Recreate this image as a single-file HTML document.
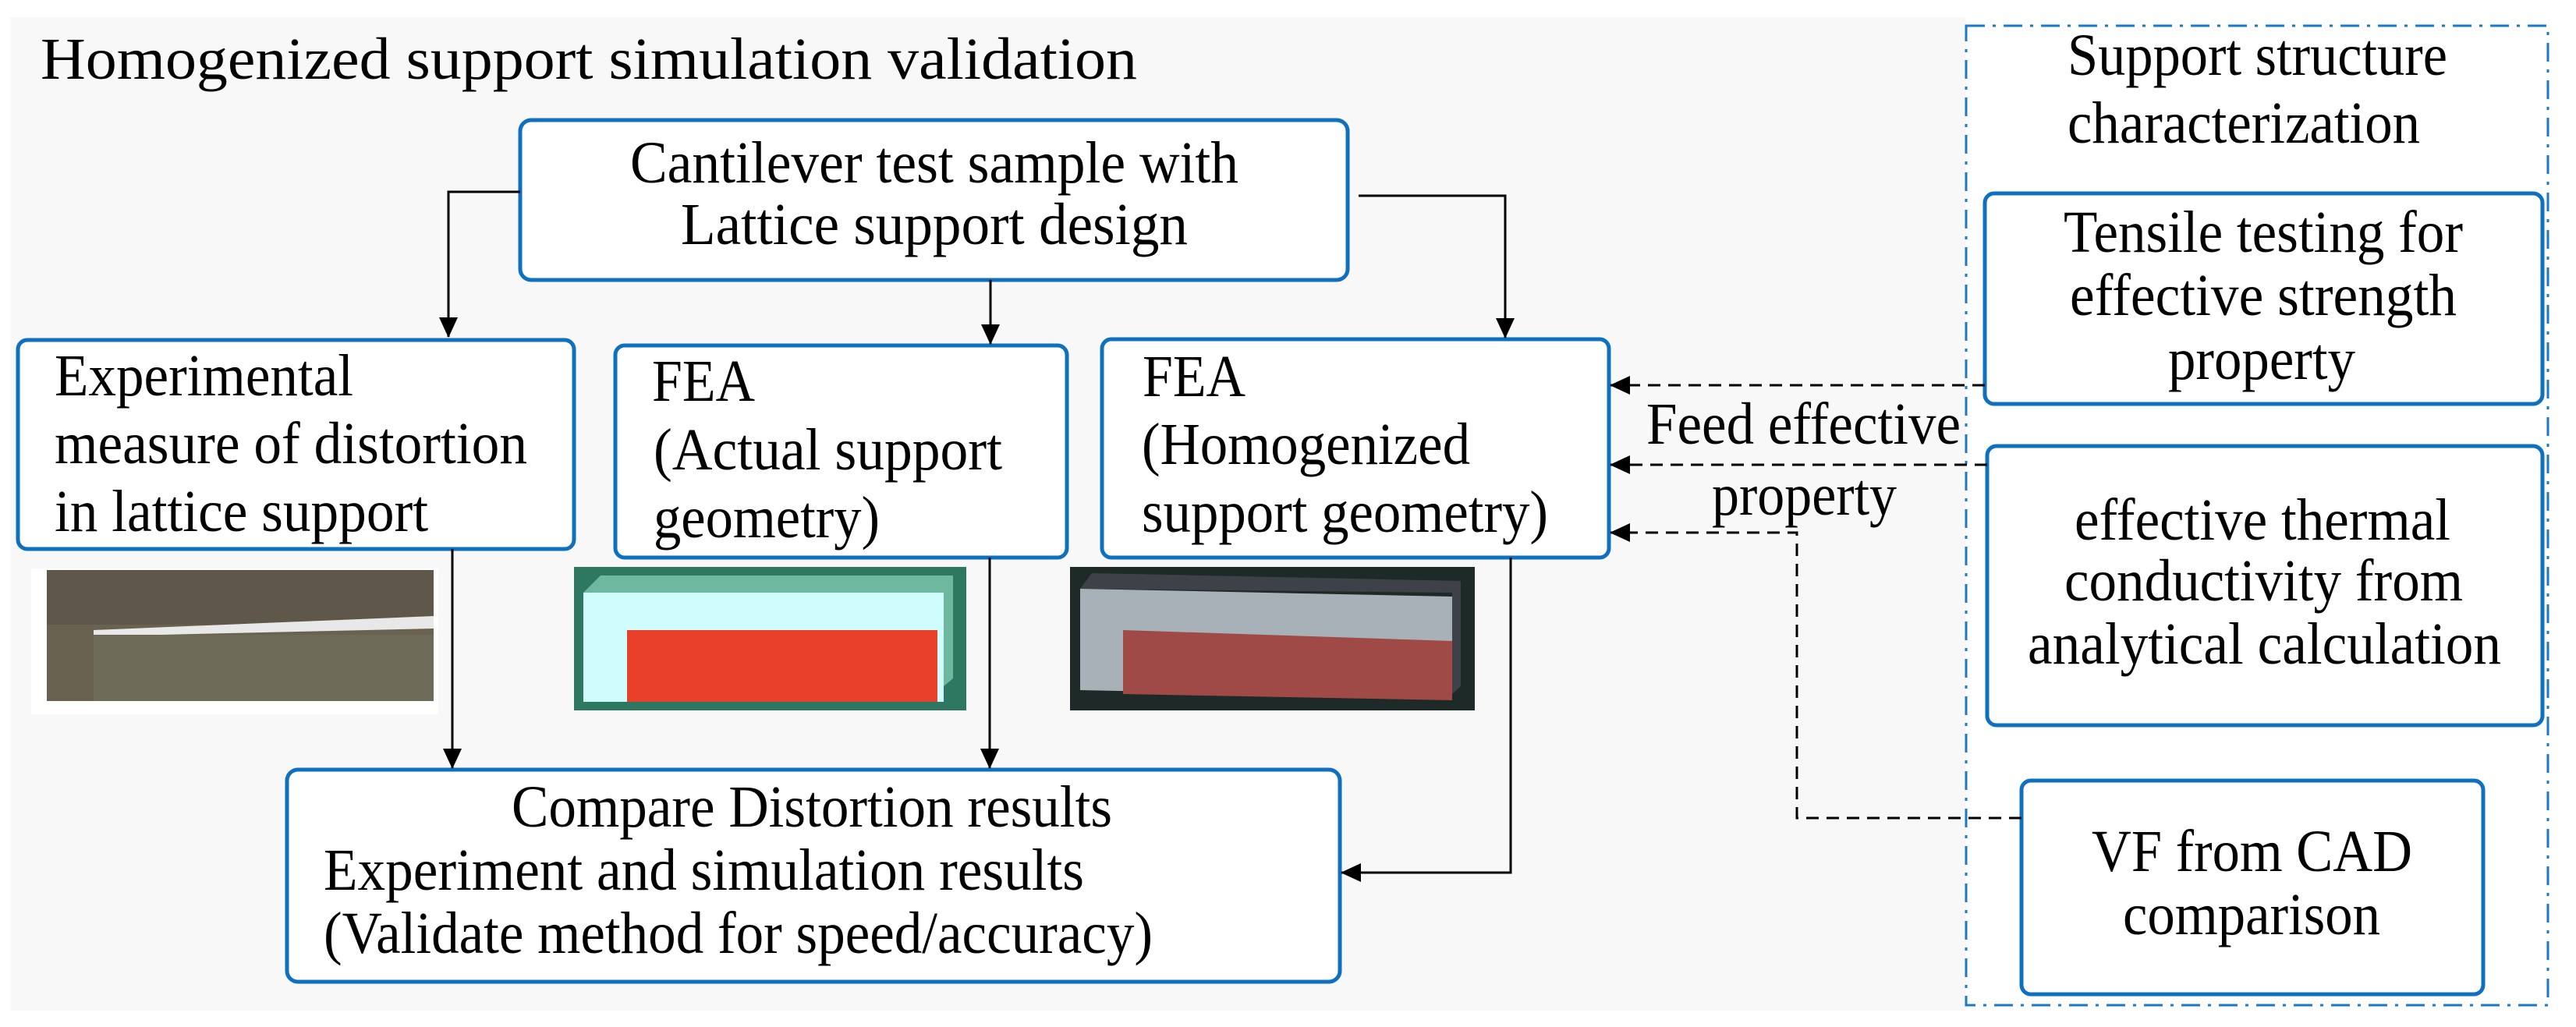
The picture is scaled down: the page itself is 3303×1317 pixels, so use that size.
<!DOCTYPE html>
<html><head><meta charset="utf-8"><style>
html,body{margin:0;padding:0;background:#fff}
svg{display:block}
</style></head><body>
<svg width="3303" height="1317" viewBox="0 0 3303 1317" xmlns="http://www.w3.org/2000/svg">
<defs>
<marker id="ah" markerWidth="26" markerHeight="24" refX="25" refY="12" orient="auto" markerUnits="userSpaceOnUse">
<path d="M0,0 L26,12 L0,24 Z" fill="#000"/></marker>
</defs>
<rect x="13" y="22" width="2508" height="1274" fill="#f8f8f8"/>
<rect x="2521" y="33" width="746" height="1256" fill="#fff" stroke="#1a78c8" stroke-width="3" stroke-dasharray="24,10,4,10"/>

<g fill="#fff" stroke="#0f70c0" stroke-width="5">
<rect x="667" y="154" width="1061" height="205" rx="14"/>
<rect x="23" y="436" width="713" height="268" rx="12"/>
<rect x="789" y="443" width="579" height="272" rx="12"/>
<rect x="1413" y="435" width="650" height="280" rx="12"/>
<rect x="368" y="987" width="1350" height="272" rx="14"/>
<rect x="2545" y="248" width="715" height="270" rx="12"/>
<rect x="2548" y="572" width="712" height="358" rx="12"/>
<rect x="2592" y="1001" width="592" height="274" rx="12"/>
</g>

<g stroke="#000" stroke-width="3" fill="none">
<path d="M667,246 H575 V432" marker-end="url(#ah)"/>
<path d="M1270,359 V441" marker-end="url(#ah)"/>
<path d="M1742,251 H1930 V433" marker-end="url(#ah)"/>
<path d="M580,704 V985" marker-end="url(#ah)"/>
<path d="M1269,715 V985" marker-end="url(#ah)"/>
<path d="M1937,715 V1119 H1720" marker-end="url(#ah)"/>
</g>
<g stroke="#000" stroke-width="3" fill="none" stroke-dasharray="16,10">
<path d="M2545,494 H2065" marker-end="url(#ah)"/>
<path d="M2548,596 H2065" marker-end="url(#ah)"/>
<path d="M2592,1049 H2304 V683 H2065" marker-end="url(#ah)"/>
</g>

<rect x="40" y="729" width="522" height="187" fill="#fff"/>
<rect x="60" y="731" width="496" height="168" fill="#6a6250"/>
<rect x="60" y="731" width="496" height="70" fill="#5f584a"/>
<path d="M120,808 L556,790 L556,806 L120,816 Z" fill="#e8e8e8"/>
<rect x="120" y="814" width="436" height="85" fill="#6e6a58"/>
<rect x="736" y="727" width="503" height="184" fill="#2e7760"/>
<path d="M748,760 L770,738 L1222,738 L1222,870 L1210,880 L1210,760 Z" fill="#6fb8a0"/>
<rect x="748" y="760" width="462" height="140" fill="#cffcfc"/>
<rect x="804" y="808" width="398" height="92" fill="#e8402a"/>
<rect x="1372" y="727" width="519" height="184" fill="#1e2a28"/>
<path d="M1385,755 L1400,735 L1873,745 L1873,880 L1862,890 L1862,760 Z" fill="#3e4248"/>
<path d="M1385,755 L1862,765 L1862,895 L1385,885 Z" fill="#a8b0b8"/>
<path d="M1440,808 L1862,822 L1862,898 L1440,890 Z" fill="#a04a48"/>

<g style="font-family:'Liberation Serif','DejaVu Serif','Noto Serif CJK SC',serif;font-size:76px" fill="#000">
<text x="52" y="101" textLength="1406" lengthAdjust="spacingAndGlyphs">Homogenized support simulation validation</text>
<text x="808" y="234" textLength="780" lengthAdjust="spacingAndGlyphs">Cantilever test sample with</text>
<text x="873" y="313" textLength="650" lengthAdjust="spacingAndGlyphs">Lattice  support design</text>
<text x="70" y="507" textLength="383" lengthAdjust="spacingAndGlyphs">Experimental</text>
<text x="70" y="594" textLength="606" lengthAdjust="spacingAndGlyphs">measure of distortion</text>
<text x="70" y="681" textLength="479" lengthAdjust="spacingAndGlyphs">in lattice support</text>
<text x="836" y="514" textLength="132" lengthAdjust="spacingAndGlyphs">FEA</text>
<text x="838" y="602" textLength="447" lengthAdjust="spacingAndGlyphs">(Actual support</text>
<text x="838" y="689" textLength="290" lengthAdjust="spacingAndGlyphs">geometry)</text>
<text x="1465" y="508" textLength="132" lengthAdjust="spacingAndGlyphs">FEA</text>
<text x="1464" y="595" textLength="421" lengthAdjust="spacingAndGlyphs">(Homogenized</text>
<text x="1464" y="682" textLength="521" lengthAdjust="spacingAndGlyphs">support geometry)</text>
<text x="2111" y="569" textLength="403" lengthAdjust="spacingAndGlyphs">Feed effective</text>
<text x="2195" y="660" textLength="237" lengthAdjust="spacingAndGlyphs">property</text>
<text x="656" y="1060" textLength="770" lengthAdjust="spacingAndGlyphs">Compare Distortion results</text>
<text x="415" y="1141" textLength="975" lengthAdjust="spacingAndGlyphs">Experiment and simulation results</text>
<text x="415" y="1222" textLength="1063" lengthAdjust="spacingAndGlyphs">(Validate method for speed/accuracy)</text>
<text x="2651" y="96" textLength="487" lengthAdjust="spacingAndGlyphs">Support structure</text>
<text x="2651" y="183" textLength="452" lengthAdjust="spacingAndGlyphs">characterization</text>
<text x="2646" y="323" textLength="512" lengthAdjust="spacingAndGlyphs">Tensile testing for</text>
<text x="2654" y="404" textLength="496" lengthAdjust="spacingAndGlyphs">effective strength</text>
<text x="2780" y="486" textLength="240" lengthAdjust="spacingAndGlyphs">property</text>
<text x="2660" y="692" textLength="482" lengthAdjust="spacingAndGlyphs">effective thermal</text>
<text x="2647" y="770" textLength="511" lengthAdjust="spacingAndGlyphs">conductivity from</text>
<text x="2600" y="851" textLength="607" lengthAdjust="spacingAndGlyphs">analytical calculation</text>
<text x="2682" y="1117" textLength="411" lengthAdjust="spacingAndGlyphs">VF from CAD</text>
<text x="2722" y="1198" textLength="330" lengthAdjust="spacingAndGlyphs">comparison</text>
</g>
</svg>
</body></html>
